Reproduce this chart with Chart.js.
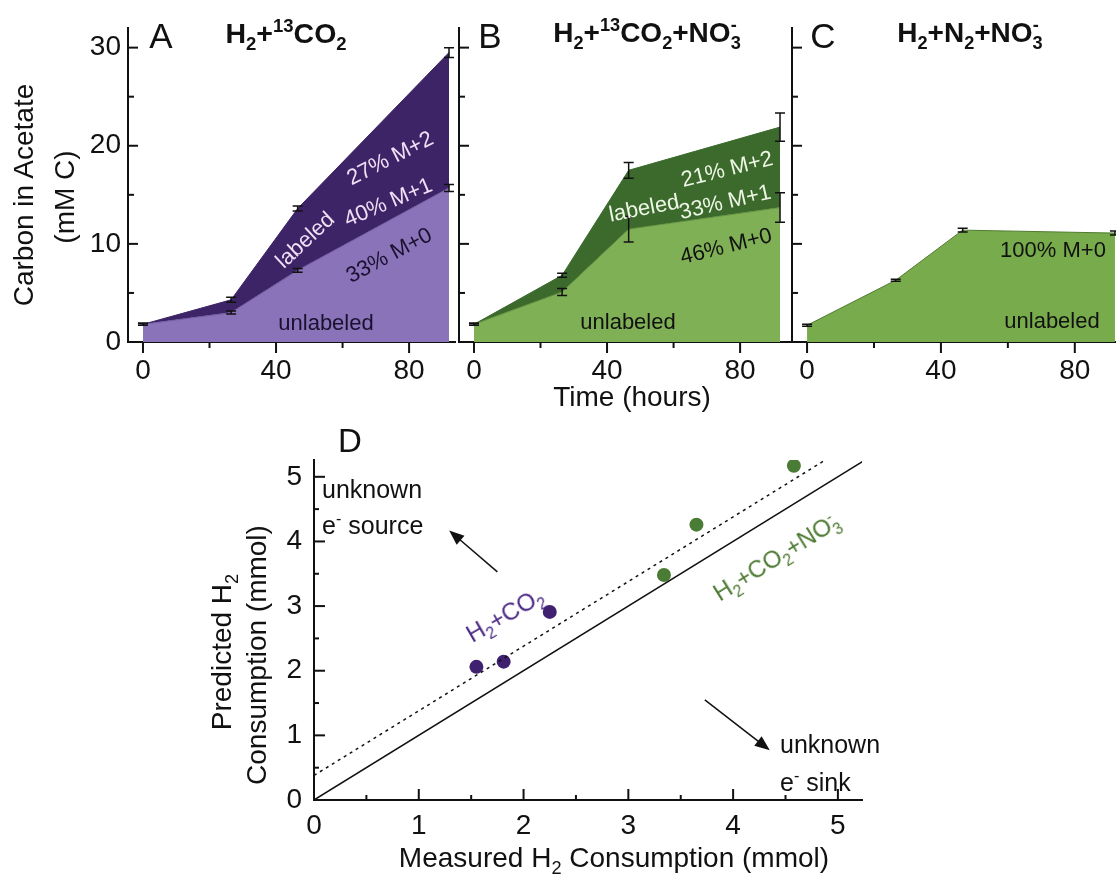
<!DOCTYPE html>
<html>
<head>
<meta charset="utf-8">
<script src="https://cdn.jsdelivr.net/npm/chart.js@4.4.0/dist/chart.umd.min.js"></script>
<style>
  html, body { margin: 0; padding: 0; background: #fff; overflow: hidden; }
  body { width: 1116px; height: 875px; position: relative; font-family: "Liberation Sans", Arial, sans-serif; color: #111; }
  canvas { position: absolute; }
  .t { position: absolute; white-space: nowrap; transform: translate(-50%, -50%); line-height: 1; }
  .l { position: absolute; white-space: nowrap; line-height: 1; }
  .t sub, .l sub { font-size: 0.65em; vertical-align: -0.4em; line-height: 0; }
  .t sup, .l sup { font-size: 0.65em; vertical-align: 0.6em; line-height: 0; }
  .bold { font-weight: bold; }
</style>
</head>
<body>
<canvas id="panel-a" width="460" height="400" style="left:0;top:0"></canvas>
<canvas id="panel-b" width="360" height="400" style="left:440px;top:0"></canvas>
<canvas id="panel-c" width="360" height="400" style="left:772px;top:0"></canvas>
<canvas id="panel-d" width="700" height="455" style="left:180px;top:420px"></canvas>

<!-- panel letters and titles -->
<div class="t" style="left:161px;top:35px;font-size:35px">A</div>
<div class="t bold" style="left:286px;top:33px;font-size:28.5px">H<sub>2</sub>+<sup>13</sup>CO<sub>2</sub></div>
<div class="t" style="left:490px;top:35px;font-size:35px">B</div>
<div class="t bold" style="left:645px;top:33px;font-size:28px">H<sub>2</sub>+<sup>13</sup>CO<sub>2</sub>+NO<sub>3</sub><sup style="margin-left:-0.55em">-</sup></div>
<div class="t" style="left:823px;top:35px;font-size:35px">C</div>
<div class="t bold" style="left:968px;top:33px;font-size:28px">H<sub>2</sub>+N<sub>2</sub>+NO<sub>3</sub><sup style="margin-left:-0.55em">-</sup></div>

<!-- top axis titles -->
<div class="t" style="left:24px;top:195px;font-size:28px;transform:translate(-50%,-50%) rotate(-90deg)">Carbon in Acetate</div>
<div class="t" style="left:65px;top:197px;font-size:28px;transform:translate(-50%,-50%) rotate(-90deg)">(mM C)</div>
<div class="t" style="left:632px;top:397px;font-size:28px">Time (hours)</div>

<!-- panel A labels -->
<div class="t" style="left:390px;top:158px;font-size:22px;color:#f2def5;transform:translate(-50%,-50%) rotate(-27deg)">27% M+2</div>
<div class="t" style="left:388px;top:202px;font-size:22px;color:#f2def5;transform:translate(-50%,-50%) rotate(-23deg)">40% M+1</div>
<div class="t" style="left:305px;top:240px;font-size:22px;color:#f2def5;transform:translate(-50%,-50%) rotate(-43deg)">labeled</div>
<div class="t" style="left:389px;top:255px;font-size:22px;color:#1a1030;transform:translate(-50%,-50%) rotate(-28deg)">33% M+0</div>
<div class="t" style="left:326px;top:323px;font-size:22px;color:#1a1030">unlabeled</div>

<!-- panel B labels -->
<div class="t" style="left:727px;top:169px;font-size:22px;color:#eef7e6;transform:translate(-50%,-50%) rotate(-14deg)">21% M+2</div>
<div class="t" style="left:725px;top:202px;font-size:22px;color:#eef7e6;transform:translate(-50%,-50%) rotate(-13deg)">33% M+1</div>
<div class="t" style="left:644px;top:208px;font-size:22px;color:#eef7e6;transform:translate(-50%,-50%) rotate(-11deg)">labeled</div>
<div class="t" style="left:726px;top:246px;font-size:22px;color:#111;transform:translate(-50%,-50%) rotate(-14deg)">46% M+0</div>
<div class="t" style="left:628px;top:322px;font-size:22px;color:#111">unlabeled</div>

<!-- panel C labels -->
<div class="t" style="left:1053px;top:250px;font-size:22px;color:#111">100% M+0</div>
<div class="t" style="left:1052px;top:321px;font-size:22px;color:#111">unlabeled</div>

<!-- panel D text -->
<div class="t" style="left:350px;top:440px;font-size:33px">D</div>
<div class="l" style="left:322px;top:477px;font-size:25px">unknown</div>
<div class="l" style="left:322px;top:513px;font-size:25px">e<sup>-</sup> source</div>
<div class="l" style="left:780px;top:732px;font-size:25px">unknown</div>
<div class="l" style="left:780px;top:770px;font-size:25px">e<sup>-</sup> sink</div>
<div class="t" style="left:505px;top:615px;font-size:24px;color:#4a2a86;transform:translate(-50%,-50%) rotate(-30deg)">H<sub>2</sub>+CO<sub>2</sub></div>
<div class="t" style="left:775px;top:558px;font-size:24px;color:#4d7a33;transform:translate(-50%,-50%) rotate(-32deg)">H<sub>2</sub>+CO<sub>2</sub>+NO<sub>3</sub><sup style="margin-left:-0.55em">-</sup></div>
<div class="t" style="left:222px;top:652px;font-size:28px;transform:translate(-50%,-50%) rotate(-90deg)">Predicted H<sub>2</sub></div>
<div class="t" style="left:257px;top:655px;font-size:28px;transform:translate(-50%,-50%) rotate(-90deg)">Consumption (mmol)</div>
<div class="t" style="left:614px;top:858px;font-size:28px">Measured H<sub>2</sub> Consumption (mmol)</div>

<script>
// sampling times (hours), shared by panels A-C
const hours = [0, 26.5, 46.5, 92];

// panel A: H2 + 13CO2
const unlabeledA = [1.8, 3.0, 7.3, 15.7];
const totalA = [1.8, 4.3, 13.6, 29.5];
const unlabeledErrA = [0.1, 0.15, 0.2, 0.35];
const totalErrA = [0.1, 0.25, 0.25, 0.5];

// panel B: H2 + 13CO2 + NO3-
const unlabeledB = [1.8, 5.1, 11.5, 13.7];
const totalB = [1.8, 6.8, 17.5, 21.9];
const unlabeledErrB = [0.1, 0.35, 1.3, 1.5];
const totalErrB = [0.1, 0.2, 0.8, 1.45];

// panel C: H2 + N2 + NO3-
const unlabeledC = [1.7, 6.3, 11.4, 11.1];
const unlabeledErrC = [0.1, 0.1, 0.2, 0.2];

const timeTicks = [0, 40, 80];
const timeMinorTicks = [20, 60];
const carbonTicks = [0, 10, 20, 30];
const carbonMinorTicks = [5, 15, 25];

// panel D: measured vs predicted H2 consumption (mmol)
const measuredCO2 = [1.55, 1.81, 2.25];
const predictedCO2 = [2.06, 2.14, 2.91];
const measuredNO3 = [3.34, 3.65, 4.58];
const predictedNO3 = [3.48, 4.26, 5.17];
const unityX = [0, 5.25];
const unityY = [0, 5.25];
const offsetX = [0, 4.88];
const offsetY = [0.38, 5.26];
const consumptionTicks = [0, 1, 2, 3, 4, 5];
const consumptionMinorTicks = [0.5, 1.5, 2.5, 3.5, 4.5];

const FONT = "'Liberation Sans', Arial, sans-serif";
const INK = '#111';

function pts(xs, ys) {
    return xs.map((x, i) => ({ x: x, y: ys[i] }));
}

const errorBars = {
    id: 'errorBars',
    afterDatasetsDraw(chart) {
        const ctx = chart.ctx;
        const sx = chart.scales.x;
        const sy = chart.scales.y;
        chart.data.datasets.forEach(ds => {
            if (!ds.errors) return;
            ctx.save();
            ctx.strokeStyle = INK;
            ctx.lineWidth = 1.5;
            ds.data.forEach((p, i) => {
                const px = sx.getPixelForValue(p.x);
                const top = sy.getPixelForValue(p.y + ds.errors[i]);
                const bot = sy.getPixelForValue(p.y - ds.errors[i]);
                ctx.beginPath();
                ctx.moveTo(px, top); ctx.lineTo(px, bot);
                ctx.moveTo(px - 5, top); ctx.lineTo(px + 5, top);
                ctx.moveTo(px - 5, bot); ctx.lineTo(px + 5, bot);
                ctx.stroke();
            });
            ctx.restore();
        });
    }
};

const tickMarks = {
    id: 'tickMarks',
    afterDraw(chart, args, opts) {
        const ctx = chart.ctx;
        const area = chart.chartArea;
        ctx.save();
        ctx.strokeStyle = INK;
        ctx.lineWidth = 2;
        ['x', 'y'].forEach(k => {
            const o = opts[k];
            if (!o) return;
            const s = chart.scales[k];
            const marks = o.major.map(v => [v, o.majorLen]).concat(o.minor.map(v => [v, o.minorLen]));
            marks.forEach(([v, len]) => {
                const p = s.getPixelForValue(v);
                ctx.beginPath();
                if (k === 'x') {
                    ctx.moveTo(p, area.bottom);
                    ctx.lineTo(p, area.bottom + (o.inward ? -len : len));
                } else {
                    ctx.moveTo(area.left, p);
                    ctx.lineTo(area.left + (o.inward ? len : -len), p);
                }
                ctx.stroke();
            });
        });
        ctx.restore();
    }
};

const arrows = {
    id: 'arrows',
    afterDraw(chart, args, opts) {
        if (!opts.list) return;
        const ctx = chart.ctx;
        const sx = chart.scales.x;
        const sy = chart.scales.y;
        ctx.save();
        ctx.strokeStyle = INK;
        ctx.fillStyle = INK;
        ctx.lineWidth = 1.5;
        opts.list.forEach(a => {
            const x0 = sx.getPixelForValue(a.from[0]), y0 = sy.getPixelForValue(a.from[1]);
            const x1 = sx.getPixelForValue(a.to[0]), y1 = sy.getPixelForValue(a.to[1]);
            const ang = Math.atan2(y1 - y0, x1 - x0);
            ctx.beginPath();
            ctx.moveTo(x0, y0);
            ctx.lineTo(x1 - 10 * Math.cos(ang), y1 - 10 * Math.sin(ang));
            ctx.stroke();
            ctx.beginPath();
            ctx.moveTo(x1, y1);
            ctx.lineTo(x1 - 15 * Math.cos(ang) + 6 * Math.sin(ang), y1 - 15 * Math.sin(ang) - 6 * Math.cos(ang));
            ctx.lineTo(x1 - 15 * Math.cos(ang) - 6 * Math.sin(ang), y1 - 15 * Math.sin(ang) + 6 * Math.cos(ang));
            ctx.closePath();
            ctx.fill();
        });
        ctx.restore();
    }
};

function timeScales(yWidth, showYLabels, xMax) {
    return {
        x: {
            type: 'linear',
            min: -4.5,
            max: xMax,
            afterBuildTicks: s => { s.ticks = timeTicks.map(v => ({ value: v })); },
            afterFit: s => { s.height = 58; },
            grid: { display: false, drawTicks: false },
            border: { display: true, color: INK, width: 2 },
            ticks: { font: { size: 28, family: FONT }, color: INK, padding: 12, maxRotation: 0, autoSkip: false }
        },
        y: {
            type: 'linear',
            min: 0,
            max: 32,
            afterBuildTicks: s => { s.ticks = carbonTicks.map(v => ({ value: v })); },
            afterFit: s => { s.width = yWidth; },
            grid: { display: false, drawTicks: false },
            border: { display: true, color: INK, width: 2 },
            ticks: { display: showYLabels, font: { size: 28, family: FONT }, color: INK, padding: 7, autoSkip: false }
        }
    };
}

function timePanel(id, datasets, yWidth, showYLabels, xMax, padRight) {
    const ctx = document.getElementById(id).getContext('2d');
    return new Chart(ctx, {
        type: 'line',
        data: { datasets: datasets },
        options: {
            responsive: false,
            animation: false,
            events: [],
            layout: { padding: { top: 28, right: padRight, left: 0, bottom: 0 } },
            scales: timeScales(yWidth, showYLabels, xMax),
            elements: { line: { tension: 0 }, point: { radius: 0 } },
            plugins: {
                legend: { display: false },
                tooltip: { enabled: false },
                tickMarks: {
                    x: { major: timeTicks, minor: timeMinorTicks, majorLen: 11, minorLen: 6, inward: false },
                    y: { major: carbonTicks, minor: carbonMinorTicks, majorLen: 10, minorLen: 6, inward: true }
                }
            }
        },
        plugins: [errorBars, tickMarks]
    });
}

function areaSet(values, errors, fill, color, edge) {
    return {
        data: pts(hours, values),
        errors: errors,
        fill: fill,
        backgroundColor: color,
        borderColor: edge,
        borderWidth: 1,
        pointRadius: 0
    };
}

timePanel('panel-a', [
    areaSet(unlabeledA, unlabeledErrA, 'origin', '#8a73b8', '#6f58a0'),
    areaSet(totalA, totalErrA, '-1', '#3d2467', '#3d2467')
], 128, true, 93.8, 5);

timePanel('panel-b', [
    areaSet(unlabeledB, unlabeledErrB, 'origin', '#80b055', '#5f8f3c'),
    areaSet(totalB, totalErrB, '-1', '#3b6a2c', '#3b6a2c')
], 19, false, 95, 10);

timePanel('panel-c', [
    areaSet(unlabeledC, unlabeledErrC, 'origin', '#78ab4b', '#4f7a32')
], 20, false, 95, 7);

new Chart(document.getElementById('panel-d').getContext('2d'), {
    type: 'scatter',
    data: {
        datasets: [
            { data: pts(unityX, unityY), showLine: true, borderColor: INK, borderWidth: 1.5, pointRadius: 0 },
            { data: pts(offsetX, offsetY), showLine: true, borderColor: INK, borderWidth: 1.5, borderDash: [3, 4], pointRadius: 0 },
            { data: pts(measuredCO2, predictedCO2), backgroundColor: '#3f216f', borderWidth: 0, pointRadius: 7 },
            { data: pts(measuredNO3, predictedNO3), backgroundColor: '#4a7c35', borderWidth: 0, pointRadius: 7 }
        ]
    },
    options: {
        responsive: false,
        animation: false,
        events: [],
        layout: { padding: { top: 40, right: 18, left: 0, bottom: 0 } },
        scales: {
            x: {
                type: 'linear', min: 0, max: 5.23,
                afterBuildTicks: s => { s.ticks = consumptionTicks.map(v => ({ value: v })); },
                afterFit: s => { s.height = 75; },
                grid: { display: false, drawTicks: false },
                border: { display: true, color: INK, width: 2 },
                ticks: { font: { size: 28, family: FONT }, color: INK, padding: 9, maxRotation: 0, autoSkip: false }
            },
            y: {
                type: 'linear', min: 0, max: 5.26,
                afterBuildTicks: s => { s.ticks = consumptionTicks.map(v => ({ value: v })); },
                afterFit: s => { s.width = 134; },
                grid: { display: false, drawTicks: false },
                border: { display: true, color: INK, width: 2 },
                ticks: { font: { size: 28, family: FONT }, color: INK, padding: 12, autoSkip: false }
            }
        },
        plugins: {
            legend: { display: false },
            tooltip: { enabled: false },
            tickMarks: {
                x: { major: consumptionTicks, minor: consumptionMinorTicks, majorLen: 11, minorLen: 5, inward: true },
                y: { major: consumptionTicks, minor: consumptionMinorTicks, majorLen: 11, minorLen: 5, inward: true }
            },
            arrows: {
                list: [
                    { from: [1.75, 3.53], to: [1.29, 4.17] },
                    { from: [3.73, 1.55], to: [4.35, 0.77] }
                ]
            }
        }
    },
    plugins: [tickMarks, arrows]
});
</script>
</body>
</html>
